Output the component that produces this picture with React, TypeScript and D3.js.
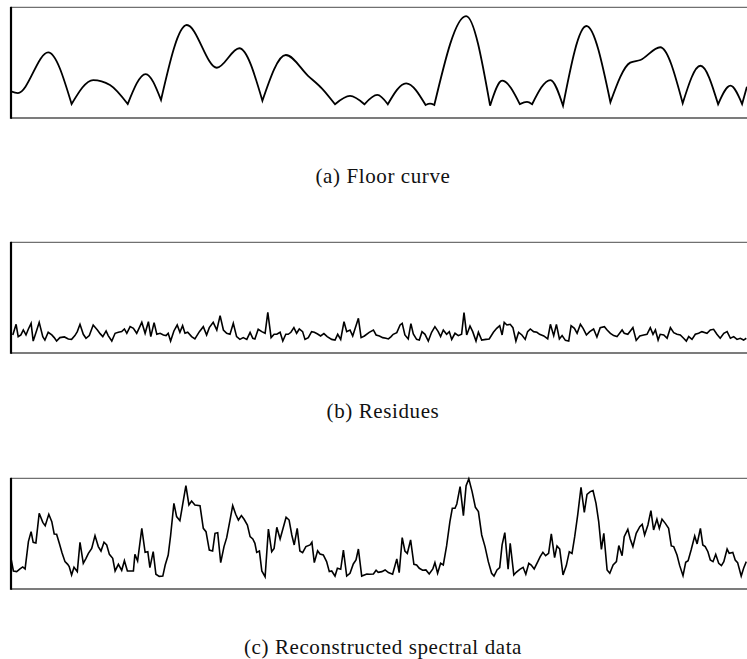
import React from 'react';
import * as d3 from 'd3';

// ---------- data ----------
// frequency bins (0 .. 245.33) and levels (0 .. 100, arbitrary dB-like units)
const floorBins = [0, 2.3, 12.4, 20.2, 27.4, 33.0, 38.9, 44.9, 50.0, 58.6, 68.6, 76.1, 83.8, 91.6, 99.1, 103.6, 108.0, 113.0, 117.8, 122.1, 125.6, 131.7, 138.2, 139.7, 141.1, 151.7, 159.7, 163.7, 169.6, 172.0, 173.7, 179.8, 184.0, 191.8, 199.8, 206.4, 209.8, 216.4, 223.9, 229.8, 235.7, 239.8, 243.7, 245.3];
const floorDb = [24, 22.5, 59.3, 12.6, 34.3, 29.8, 12.6, 39.7, 16.3, 84.0, 45.4, 63.0, 15.6, 56.9, 37.9, 26.8, 12.4, 19.9, 12.4, 20.8, 12.4, 31.3, 11.7, 12.9, 11.7, 92.1, 11.1, 33.7, 12.6, 14.5, 12.4, 34.3, 11.1, 83.1, 14.2, 50.0, 52.4, 63.9, 13.3, 47.2, 12.4, 29.2, 12.6, 28.3];
// bins where the floor curve has a sharp notch
const floorNotches = [20.2, 38.9, 50.0, 83.8, 108.0, 117.8, 125.6, 138.2, 141.1, 159.7, 169.6, 173.7, 184.0, 199.8, 223.9, 235.7, 243.7];

const residues: [number, number][] = [
  [0.6,16.3],[1.7,25.9],[2.4,14.8],[3.3,16.3],[4.1,20.8],[5.0,16.3],[5.8,21.7],[6.7,26.8],[7.4,10.8],[8.6,20.8],[9.4,27.7],[10.6,14.8],[11.3,11.7],[12.4,18.7],[13.6,16.3],[14.4,13.9],[15.2,10.8],[16.3,13.9],[17.8,14.5],[19.1,12.7],[20.2,12.3],[21.3,15.7],[22.1,19.3],[23.0,25.9],[24.1,16.9],[25.0,13.3],[26.1,15.7],[27.4,25.3],[28.8,20.8],[29.7,17.5],[30.6,14.8],[31.7,19.9],[32.4,15.7],[33.6,10.8],[34.7,17.8],[35.8,18.7],[36.9,19.3],[37.8,21.7],[38.6,17.8],[39.7,23.8],[40.8,22.3],[41.9,17.8],[43.6,27.7],[44.7,17.8],[45.8,28.3],[46.6,14.8],[47.7,27.4],[48.6,16.9],[49.7,17.8],[50.8,16.3],[51.7,15.7],[52.4,17.8],[53.2,10.8],[54.3,19.9],[55.4,25.3],[56.3,18.7],[57.2,24.7],[58.0,17.8],[58.9,18.7],[60.2,14.8],[61.3,12.7],[62.8,19.3],[64.1,23.8],[65.2,16.3],[66.1,22.9],[67.4,27.7],[68.6,20.8],[69.7,33.7],[70.8,20.8],[71.9,17.8],[73.0,16.9],[74.1,26.8],[75.2,14.8],[76.3,12.3],[77.4,13.9],[78.6,12.3],
  [79.7,18.7],[80.6,13.3],[81.3,12.7],[82.4,21.4],[83.6,19.3],[84.7,17.8],[85.6,36.7],[86.7,13.9],[87.7,16.9],[88.6,16.9],[89.7,18.7],[90.6,10.8],[91.6,16.9],[92.4,16.9],[93.3,18.7],[94.3,22.9],[95.2,17.8],[96.1,21.7],[97.2,19.3],[98.0,12.3],[99.1,13.9],[100.2,19.3],[101.1,18.7],[102.2,17.2],[103.2,15.4],[104.3,17.5],[105.4,14.8],[106.9,12.3],[108.0,11.7],[108.9,16.9],[109.9,12.3],[111.0,28.3],[111.9,19.3],[113.0,20.8],[113.9,15.4],[115.8,31.3],[116.7,13.9],[117.8,15.4],[119.4,18.7],[120.8,20.8],[121.7,16.3],[122.8,15.4],[123.9,13.9],[125.0,13.3],[125.8,12.7],[126.7,14.8],[127.4,16.9],[128.6,18.4],[129.7,25.3],[130.4,26.8],[131.3,16.3],[132.4,12.7],[133.3,26.5],[134.1,17.2],[135.2,12.3],[136.1,11.7],[137.0,19.3],[138.0,16.9],[139.1,10.8],[140.2,18.7],[141.3,23.8],[142.4,19.3],[143.2,14.8],[144.1,20.8],[145.2,16.9],[146.1,19.3],[146.9,12.3],[148.0,17.8],[149.1,15.7],[150.2,16.9],[151.0,36.4],[151.9,16.3],[153.0,24.4],[153.9,19.3],[155.0,10.8],[155.8,18.7],[156.9,11.7],[158.3,12.3],[159.4,12.7],[160.8,18.7],[161.9,22.3],
  [162.9,24.7],[163.7,16.3],[164.4,27.7],[165.3,25.3],[166.4,25.9],[167.3,22.9],[168.3,10.8],[169.2,18.7],[170.3,16.3],[171.4,12.3],[172.2,19.3],[173.1,21.7],[174.2,19.3],[175.3,18.7],[176.2,16.9],[177.6,15.4],[178.9,12.7],[179.8,25.9],[180.9,15.7],[181.8,25.9],[182.8,12.7],[183.7,15.7],[184.8,11.4],[185.9,10.8],[186.7,24.7],[187.8,22.3],[188.7,17.8],[189.8,25.9],[190.7,22.3],[191.8,16.3],[192.9,19.3],[194.2,21.7],[195.3,14.5],[196.4,22.9],[197.8,23.8],[198.7,20.8],[199.8,17.8],[200.9,15.7],[202.0,14.8],[203.7,20.8],[204.4,17.8],[205.6,16.9],[206.7,20.8],[207.3,22.9],[208.4,11.4],[209.6,15.4],[210.9,16.3],[212.0,16.9],[213.1,22.9],[214.0,16.9],[214.8,20.8],[215.7,11.7],[216.4,16.9],[217.6,16.3],[218.7,13.3],[219.8,22.9],[220.9,18.4],[222.0,16.9],[223.1,16.3],[224.2,13.3],[225.1,10.8],[225.9,14.8],[227.0,12.3],[228.1,16.9],[229.2,17.8],[230.3,19.3],[232.0,17.8],[233.1,20.8],[234.2,21.4],[235.3,16.9],[236.4,13.3],[237.6,17.8],[238.7,19.3],[239.8,13.3],[240.9,14.8],[242.0,12.3],[243.1,13.3],[244.2,11.7],[245.1,13.3]
];

const spectrum: [number, number][] = [
  [0,27.7],[0.8,16.3],[1.9,15.7],[3.0,18.1],[3.9,19.9],[4.7,18.1],[5.8,42.8],[6.7,51.8],[7.4,42.2],[8.3,41.6],[9.4,68.4],[10.6,60.2],[11.4,57.2],[12.6,67.5],[13.6,60.8],[14.4,49.7],[15.2,49.4],[16.1,41.3],[17.0,32.8],[18.0,24.7],[18.9,22.3],[19.4,20.2],[20.2,12.7],[21.0,19.6],[22.1,15.7],[23.0,42.2],[24.1,23.2],[25.0,27.7],[25.8,32.2],[26.9,36.7],[28.0,48.2],[29.1,38.3],[30.0,34.3],[31.0,42.2],[31.9,39.8],[32.8,31.3],[33.9,27.7],[34.7,16.3],[35.8,22.3],[36.9,16.9],[37.8,25.6],[38.8,16.3],[40.0,16.3],[40.8,16.3],[41.3,31.3],[42.2,25.3],[43.6,54.8],[44.7,33.1],[45.6,33.7],[46.3,19.3],[47.4,33.7],[48.3,13.3],[49.4,11.4],[50.6,11.7],[51.4,21.7],[52.4,30.7],[53.2,48.2],[54.3,77.4],[55.2,65.4],[56.3,61.7],[57.2,75.9],[58.3,93.4],[59.3,75.9],[60.2,79.5],[61.3,75.9],[63.0,75.3],[64.1,54.8],[65.0,51.8],[66.1,35.2],[67.2,34.3],[68.0,50.3],[68.9,50.9],[69.9,23.8],[71.0,38.3],[71.9,46.4],[73.0,62.3],[73.9,75.3],[74.9,67.5],[75.8,62.3],[76.8,66.3],[77.7,63.0],[78.8,57.8],
  [79.7,47.3],[80.6,45.2],[81.3,41.3],[81.9,33.1],[82.8,34.3],[83.6,16.3],[84.7,11.1],[85.8,54.2],[86.9,33.7],[87.7,36.7],[88.6,55.7],[89.7,45.2],[91.7,64.8],[92.7,62.3],[93.6,48.8],[94.4,39.8],[95.4,54.8],[96.3,34.3],[97.2,32.8],[98.3,38.3],[99.7,39.8],[100.3,42.2],[101.1,23.8],[102.2,34.6],[103.0,31.6],[104.1,30.7],[105.2,24.7],[106.1,15.7],[106.9,16.3],[108.0,11.7],[108.8,18.7],[109.9,17.8],[110.8,35.2],[111.9,11.7],[113.0,14.2],[114.1,22.6],[115.0,26.2],[115.8,36.1],[116.9,11.7],[118.6,13.6],[119.5,13.3],[120.8,13.6],[121.7,16.9],[122.4,15.1],[123.6,15.7],[124.7,17.2],[125.8,14.8],[127.2,13.3],[128.6,27.1],[129.4,14.8],[130.4,46.4],[131.3,34.3],[132.1,32.2],[133.2,44.3],[134.3,22.3],[135.2,21.7],[136.1,18.7],[137.2,16.9],[138.3,17.2],[139.4,13.6],[140.6,18.1],[141.3,23.8],[142.2,14.2],[143.2,23.2],[144.1,21.7],[145.2,38.9],[146.3,60.8],[147.1,72.9],[148.0,72.9],[148.6,76.8],[149.7,92.5],[150.8,66.3],[151.7,93.4],[152.6,99.5],[153.7,88.0],[154.8,73.8],[155.8,69.9],[156.9,48.8],[158.0,38.3],[159.1,24.7],[160.2,14.2],[161.0,11.7],[162.0,17.2],
  [162.9,19.3],[163.7,39.8],[164.6,50.9],[165.7,17.8],[166.4,41.3],[167.6,12.7],[168.4,15.1],[169.6,17.8],[170.7,19.6],[171.6,13.3],[172.6,23.2],[173.4,21.7],[174.4,18.1],[175.6,24.7],[176.4,29.2],[177.3,33.1],[178.2,30.1],[179.2,32.2],[180.1,49.7],[181.2,28.3],[182.0,38.9],[182.9,36.1],[184.0,12.7],[185.1,21.1],[186.1,33.7],[187.0,32.2],[187.9,47.3],[188.9,66.9],[190.0,91.9],[191.1,69.3],[192.0,85.5],[193.1,88.0],[194.0,88.9],[195.0,77.4],[195.9,60.8],[196.8,35.8],[197.6,50.3],[198.7,17.2],[199.6,14.2],[200.7,21.7],[201.8,24.7],[202.6,39.2],[203.7,30.1],[204.4,47.3],[205.6,53.9],[206.4,45.2],[207.3,38.3],[208.4,50.3],[209.6,56.3],[210.4,58.4],[211.2,48.8],[212.3,57.8],[213.3,70.8],[214.2,53.3],[215.3,63.0],[216.1,54.8],[217.0,63.0],[218.1,59.3],[219.2,54.8],[220.1,38.9],[220.9,38.3],[222.0,30.7],[222.9,21.1],[224.0,12.0],[224.9,24.1],[225.7,25.6],[226.7,35.2],[227.9,47.9],[228.7,40.7],[229.8,54.8],[230.6,39.8],[231.4,38.3],[232.3,33.7],[233.1,26.2],[234.0,24.7],[234.9,31.3],[235.9,23.2],[236.8,21.1],[237.6,24.7],[238.7,36.1],[239.4,32.2],[240.6,33.1],[241.4,26.2],[242.2,23.8],[243.4,11.7],[244.2,18.7],[245.1,24.7]
];

const captions = ['(a) Floor curve', '(b) Residues', '(c) Reconstructed spectral data'];
const binDomain = [0, 245.33];
const levelDomain = [0, 100];

// ---------- layout ----------
const W = 747;
const H = 659;
const LEFT = 11;
const RIGHT = 747;
const PANEL_H = 110.7;
const PANEL_TOPS = [7.3, 242.3, 478.3];
const SERIF = 'Liberation Serif, DejaVu Serif, Times New Roman, serif';

function floorPath(x: d3.ScaleLinear<number, number>, y: d3.ScaleLinear<number, number>) {
  const pts: [number, number][] = floorBins.map((b, i) => [b, floorDb[i]]);
  const notch = new Set(floorNotches);
  const segs: [number, number][][] = [];
  let cur: [number, number][] = [pts[0]];
  for (let i = 1; i < pts.length; i++) {
    cur.push(pts[i]);
    if (notch.has(pts[i][0]) && i < pts.length - 1) {
      segs.push(cur);
      cur = [pts[i]];
    }
  }
  segs.push(cur);
  const line = d3.line<[number, number]>().x(d => x(d[0])).y(d => y(d[1])).curve(d3.curveMonotoneX);
  return segs.map((s, i) => {
    const p = line(s) || '';
    return i === 0 ? p : p.replace(/^M/, 'L');
  }).join('');
}

export default function App() {
  const x = d3.scaleLinear().domain(binDomain).range([LEFT, RIGHT]);
  const ys = PANEL_TOPS.map(t => d3.scaleLinear().domain(levelDomain).range([t + PANEL_H, t]));
  const linLine = (y: d3.ScaleLinear<number, number>) =>
    d3.line<[number, number]>().x(d => x(d[0])).y(d => y(d[1]));

  const paths = [
    floorPath(x, ys[0]),
    linLine(ys[1])(residues) || '',
    linLine(ys[2])(spectrum) || '',
  ];
  const widths = [1.8, 1.6, 1.6];

  return (
    <svg width={W} height={H} style={{ position: 'absolute', left: 0, top: 0, background: '#fff' }}>
      <rect x={0} y={0} width={W} height={H} fill="#fff" />
      {PANEL_TOPS.map((t, i) => {
        const b = t + PANEL_H;
        return (
          <g key={i}>
            <line x1={LEFT} x2={W} y1={t} y2={t} stroke="#707070" strokeWidth={1.2} />
            <line x1={LEFT} x2={W} y1={b} y2={b} stroke="#505050" strokeWidth={1.6} />
            <path d={paths[i]} fill="none" stroke="#000" strokeWidth={widths[i]} strokeLinejoin="miter" strokeMiterlimit={4} />
            <line x1={LEFT} x2={LEFT} y1={t - 0.5} y2={b + 0.8} stroke="#000" strokeWidth={2.2} />
            <text x={383} y={b + 65} textAnchor="middle" style={{ fontFamily: SERIF, fontSize: '21px', letterSpacing: '0.6px' }} fill="#111">
              {captions[i]}
            </text>
          </g>
        );
      })}
    </svg>
  );
}
